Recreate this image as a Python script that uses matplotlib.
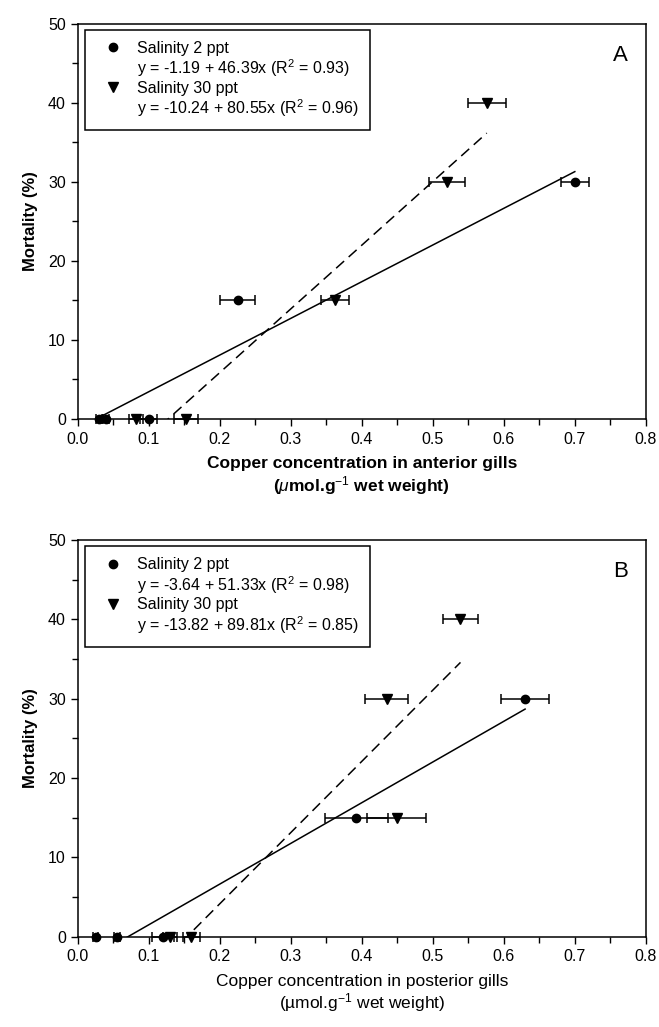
import numpy as np
import matplotlib
matplotlib.use("Agg")
import matplotlib.pyplot as plt
from matplotlib.lines import Line2D

plt.rcParams['font.family'] = ['Liberation Sans', 'DejaVu Sans']
plt.rcParams['mathtext.fontset'] = 'custom'
plt.rcParams['mathtext.rm'] = 'Liberation Sans'
plt.rcParams['mathtext.it'] = 'Liberation Sans:italic'
plt.rcParams['mathtext.bf'] = 'Liberation Sans:bold'

# anterior gills (panel A)
a_x2 = [0.03, 0.04, 0.10, 0.225, 0.70]
a_y2 = [0, 0, 0, 15, 30]
a_e2 = [0.004, 0.004, 0.012, 0.025, 0.02]
a_x30 = [0.082, 0.153, 0.362, 0.52, 0.576]
a_y30 = [0, 0, 15, 30, 40]
a_e30 = [0.01, 0.017, 0.02, 0.025, 0.027]
a_fit2 = (-1.19, 46.39, 0.93)
a_fit30 = (-10.24, 80.55, 0.96)

# posterior gills (panel B)
b_x2 = [0.025, 0.055, 0.12, 0.3925, 0.63]
b_y2 = [0, 0, 0, 15, 30]
b_e2 = [0.003, 0.004, 0.015, 0.045, 0.034]
b_x30 = [0.13, 0.16, 0.449, 0.435, 0.539]
b_y30 = [0, 0, 15, 30, 40]
b_e30 = [0.01, 0.012, 0.041, 0.03, 0.025]
b_fit2 = (-3.64, 51.33, 0.98)
b_fit30 = (-13.82, 89.81, 0.85)


def panel(ax, x2, y2, e2, x30, y30, e30, fit2, fit30, letter, xlab, xweight):
    ax.errorbar(x2, y2, xerr=e2, fmt='o', color='black', ms=6, capsize=3.5,
                elinewidth=1.1, capthick=1.1, clip_on=False, zorder=3)
    ax.errorbar(x30, y30, xerr=e30, fmt='v', color='black', ms=6.5, capsize=3.5,
                elinewidth=1.1, capthick=1.1, clip_on=False, zorder=3)
    # regression lines over the range of the data
    xs = np.array([min(x2), max(x2)])
    ax.plot(xs, fit2[0] + fit2[1] * xs, color='black', lw=1.1)
    xs = np.array([min(x30), max(x30)])
    ax.plot(xs, fit30[0] + fit30[1] * xs, color='black', lw=1.1,
            dashes=(7, 4))

    ax.set_xlim(0, 0.8)
    ax.set_ylim(0, 50)
    ax.set_xticks(np.arange(0, 0.81, 0.1))
    ax.set_xticks(np.arange(0, 0.81, 0.05), minor=True)
    ax.set_yticks(np.arange(0, 51, 10))
    ax.set_yticks(np.arange(0, 51, 5), minor=True)
    ax.xaxis.set_major_formatter(matplotlib.ticker.FormatStrFormatter('%.1f'))
    ax.tick_params(which='both', direction='out', labelsize=11.5, width=1)
    ax.tick_params(which='major', length=5)
    ax.tick_params(which='minor', length=4)
    ax.tick_params(axis='x', pad=4)
    for s in ax.spines.values():
        s.set_linewidth(1.1)

    ax.set_ylabel('Mortality (%)', fontsize=12, fontweight='bold', labelpad=7)
    ax.set_xlabel(xlab, fontsize=12.5, fontweight=xweight, labelpad=7,
                  linespacing=1.15)
    ax.text(0.955, 0.92, letter, transform=ax.transAxes, fontsize=16,
            ha='center', va='center')

    blank = Line2D([], [], linestyle='none', marker='none')
    handles = [Line2D([], [], linestyle='none', marker='o', color='black', ms=6),
               blank,
               Line2D([], [], linestyle='none', marker='v', color='black', ms=6.5),
               blank]
    labels = ['Salinity 2 ppt',
              'y = %.2f + %.2fx (R$^2$ = %.2f)' % fit2,
              'Salinity 30 ppt',
              'y = %.2f + %.2fx (R$^2$ = %.2f)' % fit30]
    leg = ax.legend(handles, labels, loc='upper left',
                    bbox_to_anchor=(0.012, 0.985), fontsize=11.5,
                    labelspacing=0.1, handlelength=2.1, handletextpad=0.5,
                    borderpad=0.7, borderaxespad=0, fancybox=False,
                    framealpha=1, edgecolor='black')
    leg.get_frame().set_linewidth(1.1)


fig = plt.figure(figsize=(6.59, 10.27), dpi=100)
axA = fig.add_axes([0.118, 0.592, 0.862, 0.385])
axB = fig.add_axes([0.118, 0.088, 0.862, 0.386])

panel(axA, a_x2, a_y2, a_e2, a_x30, a_y30, a_e30, a_fit2, a_fit30, 'A',
      'Copper concentration in anterior gills\n($\\mathit{\\mu}$mol.g$^{-1}$ wet weight)',
      'bold')
panel(axB, b_x2, b_y2, b_e2, b_x30, b_y30, b_e30, b_fit2, b_fit30, 'B',
      'Copper concentration in posterior gills\n(\u00b5mol.g$^{-1}$ wet weight)',
      'normal')

fig.savefig('out.png', dpi=100)
